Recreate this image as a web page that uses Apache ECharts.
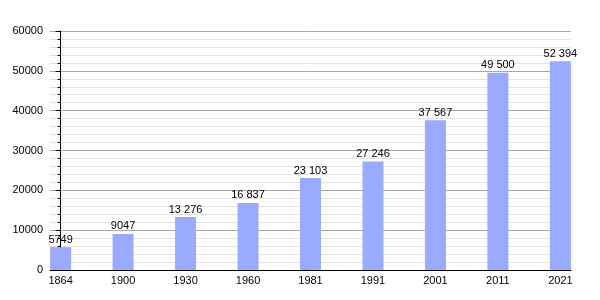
<!DOCTYPE html>
<html><head><meta charset="utf-8">
<script src="https://cdn.jsdelivr.net/npm/echarts@6/dist/echarts.min.js"></script>
<style>html,body{margin:0;padding:0;background:#fff}#c{width:600px;height:300px}</style>
</head><body><div id="c"></div>
<script>
const years = ['1864','1900','1930','1960','1981','1991','2001','2011','2021'];
const population = [5749, 9047, 13276, 16837, 23103, 27246, 37567, 49500, 52394];
const yTicks = [0, 10000, 20000, 30000, 40000, 50000, 60000];

function fmt(v){ return v >= 10000 ? String(v).replace(/\B(?=(\d{3})+(?!\d))/g, ' ') : String(v); }

const chart = echarts.init(document.getElementById('c'), null, {renderer:'canvas'});
const font = 'Liberation Sans, Arial, sans-serif';
chart.setOption({
  animation:false,
  grid:{left:50, right:29, top:31, bottom:30, containLabel:false},
  xAxis:{
    type:'value', min:-0.17, max:8.17,
    axisLine:{show:true, onZero:false, lineStyle:{color:'#000', width:1}},
    axisTick:{show:false},
    splitLine:{show:false},
    axisLabel:{customValues: years.map((y,i)=>i), formatter:(v)=>years[Math.round(v)],
      color:'#000', fontFamily:font, fontSize:11, margin:5}
  },
  yAxis:{
    type:'value', min:yTicks[0], max:yTicks[yTicks.length-1], interval:10000,
    axisLine:{show:true, lineStyle:{color:'#000', width:1}},
    axisTick:{show:true, length:5, lineStyle:{color:'#000'}},
    minorTick:{show:true, splitNumber:5, length:3, lineStyle:{color:'#000'}},
    splitLine:{show:true, lineStyle:{color:'#a8a8a8', width:1}},
    minorSplitLine:{show:true, lineStyle:{color:'#e2e2e2', width:1}},
    axisLabel:{color:'#000', fontFamily:font, fontSize:11, margin:7, formatter:(v)=>String(v)}
  },
  series:[{
    type:'bar', barWidth:21,
    data: population.map((v,i)=>[i,v]),
    itemStyle:{color:'#99aaff'},
    label:{show:true, position:'top', distance:2, color:'#000', fontFamily:font, fontSize:11,
      formatter:(p)=>fmt(p.value[1])}
  }]
});
</script></body></html>
